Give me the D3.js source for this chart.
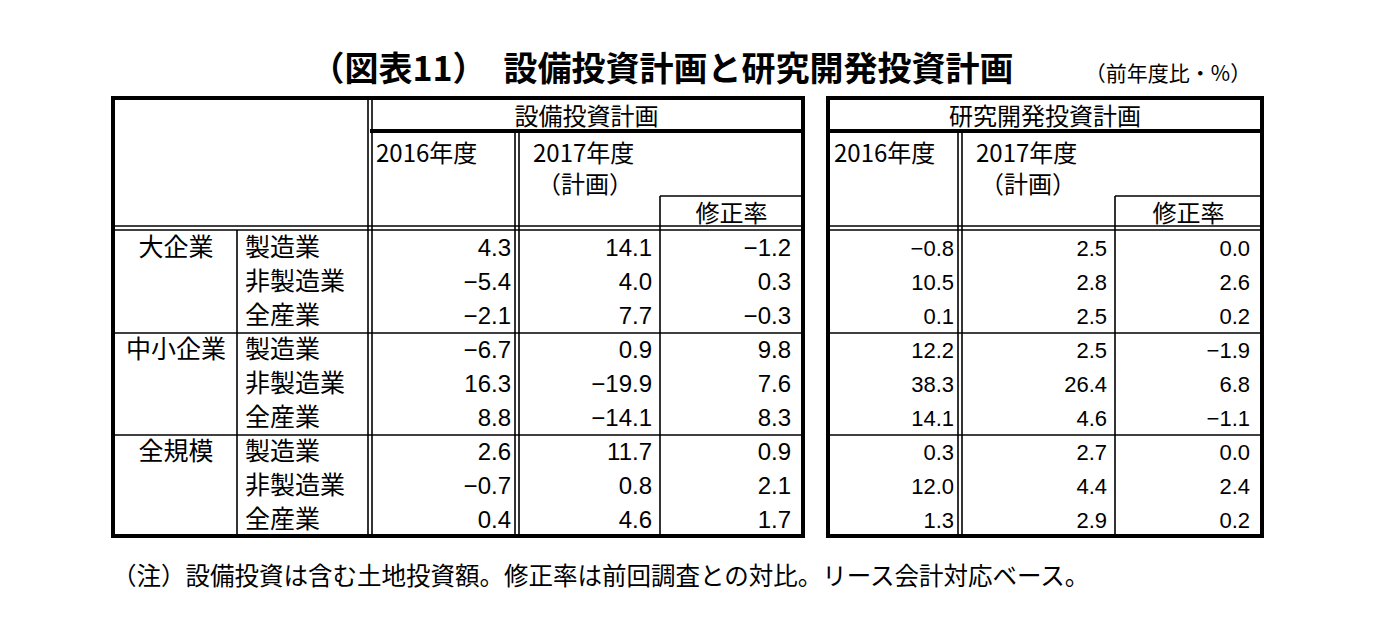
<!DOCTYPE html>
<html><head><meta charset="utf-8">
<script src="https://cdn.jsdelivr.net/npm/d3@7"></script>
<style>body{margin:0;background:#fff}</style>
</head><body>
<svg id="c" width="1385" height="629"></svg>
<script>
// 表の中身
var groups = ["大企業", "中小企業", "全規模"];
var industries = ["製造業", "非製造業", "全産業"];
var capex2016 = [4.3, -5.4, -2.1, -6.7, 16.3, 8.8, 2.6, -0.7, 0.4];
var capex2017 = [14.1, 4.0, 7.7, 0.9, -19.9, -14.1, 11.7, 0.8, 4.6];
var capexRev = [-1.2, 0.3, -0.3, 9.8, 7.6, 8.3, 0.9, 2.1, 1.7];
var rd2016 = [-0.8, 10.5, 0.1, 12.2, 38.3, 14.1, 0.3, 12.0, 1.3];
var rd2017 = [2.5, 2.8, 2.5, 2.5, 26.4, 4.6, 2.7, 4.4, 2.9];
var rdRev = [0.0, 2.6, 0.2, -1.9, 6.8, -1.1, 0.0, 2.4, 0.2];

var svg = d3.select("#c");
var jp = "'Noto Sans CJK JP', sans-serif";
var fmt = function(v){ return d3.format(".1f")(v).replace("-", "−"); };

var y = d3.scaleBand().domain(d3.range(9)).range([230, 536]);

svg.append("text").attr("x", 662).attr("y", 81).attr("text-anchor", "middle")
  .style("font-family", jp).style("font-size", "34px").style("font-weight", "bold")
  .text("（図表11）　設備投資計画と研究開発投資計画");
svg.append("text").attr("x", 1168).attr("y", 81).attr("text-anchor", "middle")
  .style("font-family", jp).style("font-size", "21px").text("（前年度比・%）");
svg.append("text").attr("x", 112).attr("y", 585)
  .style("font-family", jp).style("font-size", "24.5px")
  .text("（注）設備投資は含む土地投資額。修正率は前回調査との対比。リース会計対応ベース。");

function line(x1, y1, x2, y2, w) {
  svg.append("line").attr("x1", x1).attr("y1", y1).attr("x2", x2).attr("y2", y2)
    .attr("stroke", "#000").attr("stroke-width", w);
}
function dbl(x1, y1, x2, y2) {
  if (x1 == x2) { line(x1 - 2, y1, x2 - 2, y2, 1.6); line(x1 + 2, y1, x2 + 2, y2, 1.6); }
  else { line(x1, y1 - 2, x2, y2 - 2, 1.6); line(x1, y1 + 2, x2, y2 + 2, 1.6); }
}
function txt(x, yy, s, anchor, fam, size) {
  svg.append("text").attr("x", x).attr("y", yy).attr("text-anchor", anchor || "start")
    .style("font-family", fam || jp).style("font-size", (size || 24) + "px").text(s);
}

function panel(x0, x1, cSplit, cRev, title, cols, narrow, leftLabels) {
  var top = 98, bot = 536;
  svg.append("rect").attr("x", x0).attr("y", top).attr("width", x1 - x0).attr("height", bot - top)
    .attr("fill", "none").attr("stroke", "#000").attr("stroke-width", 4);
  var xs = leftLabels ? leftLabels[1] : x0;
  line(xs, 131, x1, 131, 4);
  dbl(x0, 228, x1, 228);
  dbl(cSplit, 131, cSplit, bot);
  line(cRev, 196, x1, 196, 1.6);
  line(cRev, 196, cRev, bot, 1.6);
  [3, 6].forEach(function(i){ line(x0, y.range()[0] + y.step() * i + 1, x1, y.range()[0] + y.step() * i + 1, 1.6); });
  txt((xs + x1) / 2, 125, title, "middle", jp, 24);
  txt(xs + 6, 162, "2016年度");
  txt(cSplit + 16, 162, "2017年度");
  txt(cSplit + 20, 193, "（計画）");
  txt((cRev + x1) / 2, 222, "修正率", "middle", jp, 24);
  var fam = narrow ? "'Liberation Sans Narrow', 'Arial Narrow', sans-serif" : "'Liberation Sans', Arial, sans-serif";
  var rights = [cSplit - 6, cRev - 8, x1 - 12];
  cols.forEach(function(arr, ci){
    arr.forEach(function(v, i){
      txt(rights[ci], y(i) + y.bandwidth() / 2 + 9, fmt(v), "end", fam, narrow ? 24 : 22);
    });
  });
}

panel(113, 803, 517, 660, "設備投資計画", [capex2016, capex2017, capexRev], true, [237, 370]);
dbl(370, 98, 370, 536);
line(237, 230, 237, 536, 1.6);
panel(828, 1262, 960, 1115, "研究開発投資計画", [rd2016, rd2017, rdRev], false, null);

groups.forEach(function(g, gi){
  txt(176, y(gi * 3) + y.bandwidth() / 2 + 9, g, "middle", jp, 25);
  industries.forEach(function(s, si){
    txt(245, y(gi * 3 + si) + y.bandwidth() / 2 + 9, s, "start", jp, 25);
  });
});
</script>
</body></html>
